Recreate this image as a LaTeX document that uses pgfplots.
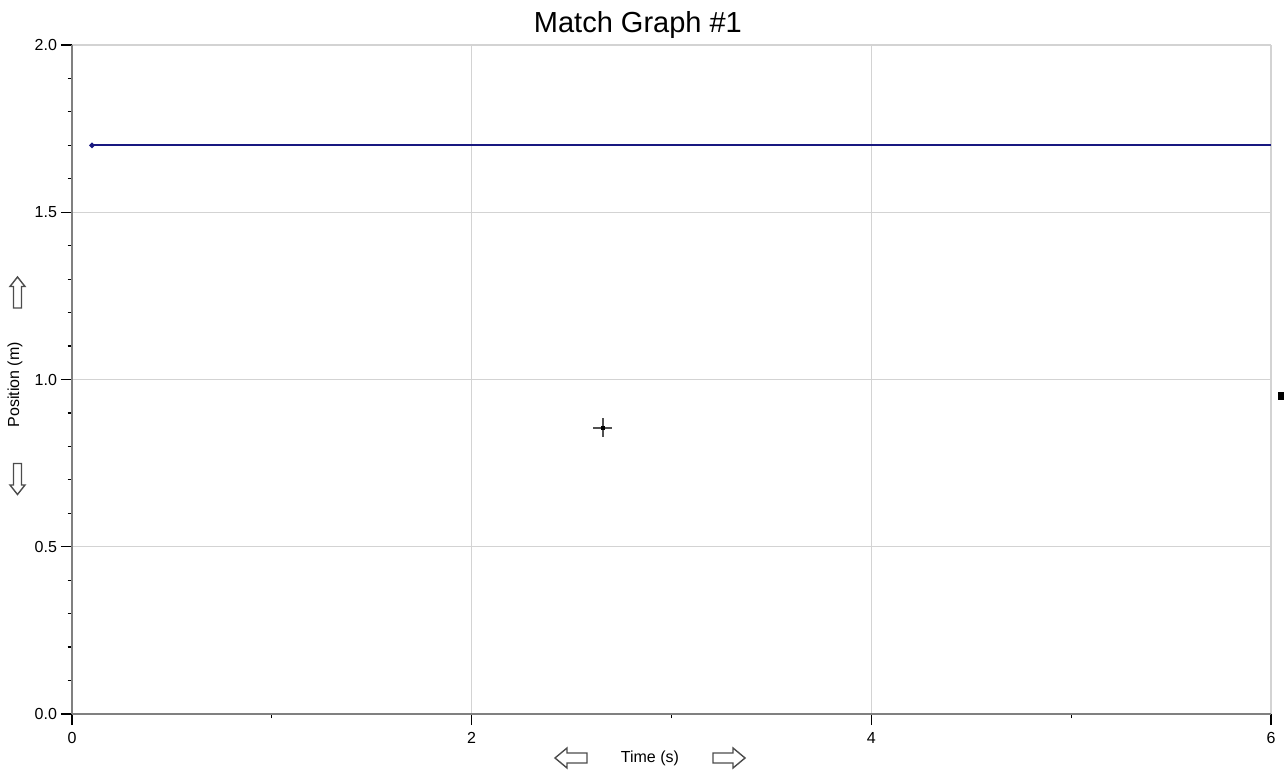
\documentclass[border=0pt]{standalone}
\usepackage{fontspec}
\setmainfont{Liberation Sans}
\usepackage{pgfplots}
\pgfplotsset{compat=1.18}

\definecolor{navyline}{RGB}{24,24,128}
\definecolor{axisgray}{RGB}{128,128,128}
\definecolor{gridgray}{RGB}{211,211,211}
\definecolor{crossgray}{RGB}{80,80,80}

% hollow block arrows beside the axis labels
\tikzset{hollow/.style={black!70, line width=0.7pt, fill=white}}

\begin{document}
\begin{tikzpicture}
\begin{axis}[
    scale only axis,
    width=599.5pt, height=334.5pt,
    xmin=0, xmax=6, ymin=0, ymax=2,
    axis lines=left,
    axis line style={-, axisgray, line width=1.4pt},
    xtick={0,2,4,6},
    ytick={0,0.5,1,1.5,2},
    minor x tick num=1,
    minor y tick num=4,
    tick align=outside,
    major tick length=5.5pt,
    minor tick length=2.2pt,
    tick style={black, line width=0.6pt},
    grid=major,
    major grid style={gridgray, line width=0.6pt},
    /pgf/number format/assume math mode=true,
    ticklabel style={font=\fontsize{8}{9.6}\selectfont},
    yticklabel style={xshift=1.5pt, /pgf/number format/fixed, /pgf/number format/fixed zerofill, /pgf/number format/precision=1},
    xticklabel style={/pgf/number format/fixed, /pgf/number format/precision=0},
    title={Match Graph \#1},
    title style={at={(axis description cs:0.472,1.0194)}, anchor=base, yshift=-6pt, font=\fontsize{14.5}{17}\selectfont},
    xlabel={Time (s)},
    xlabel style={at={(axis description cs:0.482,-0.0658)}, anchor=center, font=\fontsize{8}{9.6}\selectfont},
    ylabel={Position (m)},
    ylabel style={at={(axis description cs:-0.0475,0.492)}, anchor=center, font=\fontsize{8}{9.6}\selectfont},
]
\addplot[navyline, line width=0.9pt, mark=*, mark size=0.9pt, mark indices={1}]
    coordinates {(0.1,1.7) (6,1.7)};
\addplot[only marks, mark=+, mark size=4.75pt, crossgray, line width=0.6pt]
    coordinates {(2.657,0.855)};
\addplot[only marks, mark=square*, mark size=0.8pt, black]
    coordinates {(2.657,0.855)};
\end{axis}

% arrows beside "Time (s)"
\draw[hollow, shift={(249.5pt,-22pt)}]
    (-8pt,0) -- (-2pt,5pt) -- (-2pt,2.5pt) -- (8pt,2.5pt) -- (8pt,-2.5pt) -- (-2pt,-2.5pt) -- (-2pt,-5pt) -- cycle;
\draw[hollow, shift={(328.5pt,-22pt)}, rotate=180]
    (-8pt,0) -- (-2pt,5pt) -- (-2pt,2.5pt) -- (8pt,2.5pt) -- (8pt,-2.5pt) -- (-2pt,-2.5pt) -- (-2pt,-5pt) -- cycle;
% arrows beside "Position (m)"
\draw[hollow, shift={(-27.25pt,210.75pt)}]
    (0,7.75pt) -- (3.75pt,3pt) -- (2pt,3pt) -- (2pt,-7.75pt) -- (-2pt,-7.75pt) -- (-2pt,3pt) -- (-3.75pt,3pt) -- cycle;
\draw[hollow, shift={(-27.25pt,117.5pt)}, rotate=180]
    (0,7.75pt) -- (3.75pt,3pt) -- (2pt,3pt) -- (2pt,-7.75pt) -- (-2pt,-7.75pt) -- (-2pt,3pt) -- (-3.75pt,3pt) -- cycle;
% small marker at the right edge
\fill[black] (603pt,157pt) rectangle (606pt,161pt);

\pgfresetboundingbox
\useasboundingbox (-36pt,-28pt) rectangle (606pt,357pt);
\end{tikzpicture}
\end{document}
